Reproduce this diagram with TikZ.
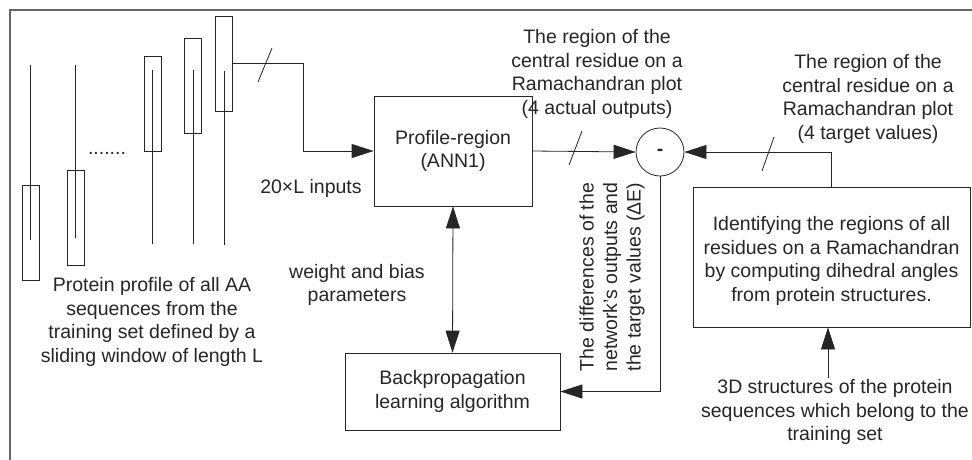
\documentclass[tikz,border=0pt]{standalone}
\usepackage{fontspec}
\setmainfont{Liberation Sans}
\usetikzlibrary{arrows.meta}
\begin{document}
\begin{tikzpicture}[x=1pt,y=-1pt,
  every node/.style={font=\fontsize{19.5}{23.5}\selectfont, text=black!85},
  ln/.style={draw=black!85, line width=0.8pt},
  tip/.tip={Triangle[length=22pt,width=14pt]},
  arr/.style={ln, -tip},
  darr/.style={ln, tip-tip},
  blk/.style={ln, rectangle, inner sep=0pt, align=center},
  winbox/.style={ln, rectangle, inner sep=0pt, minimum width=17pt, minimum height=95pt},
  lbl/.style={align=center, inner sep=0pt},
  cut/.style={ln}]
\useasboundingbox (0,0) rectangle (972,459);
\clip (0,0) rectangle (972,459);
\fill[white] (0,0) rectangle (972,459);
% outer frame
\draw[draw=black!60, line width=1.2pt] (10,480) -- (10,10) -- (990,10);

% profile windows sliding along the sequences
\draw[ln] (30,65) -- (30,240);
\node[winbox] (b1) at (30.5,232.5) {};
\draw[ln] (75,65) -- (75,238);
\node[winbox] (b2) at (75.5,218) {};
\node[lbl, anchor=base] (dots) at (107,154) {.......};
\draw[ln] (152,70) -- (152,244);
\node[winbox] (b3) at (152.5,104) {};
\draw[ln] (193,70) -- (193,244);
\node[winbox] (b4) at (193,86) {};
\draw[ln] (224,71) -- (224,245);
\node[winbox] (b5) at (224,63.5) {};

\node[lbl] (prof) at (152,322) {Protein profile of all AA\\sequences from the\\training set defined by a\\sliding window of length L};

% network and training blocks
\node[blk, minimum width=158pt, minimum height=110pt] (ann) at (453,151) {Profile-region\\(ANN1)};
\node[blk, minimum width=215pt, minimum height=77pt] (bp) at (452.5,391.5) {Backpropagation\\learning algorithm};
\node[blk, minimum width=277pt, minimum height=140pt] (ident) at (831.5,257) {};
\node[lbl] (identtxt) at (831.5,261) {Identifying the regions of all\\residues on a Ramachandran\\by computing dihedral angles\\from protein structures.};
\node[ln, circle, minimum size=48pt, inner sep=0pt] (sum) at (660,152) {\textbf{-}};

% inputs
\coordinate (c1) at (303,63.5);
\coordinate (c2) at (303,151);
\draw[arr] (b5.east) -- (c1) -- (c2) -- (ann.west);
\draw[cut] (272,48) -- (258,82);
\node[lbl] (inp) at (311,188) {20×L inputs};

% actual outputs to comparator
\draw[arr] (ann.east) -- (sum.west);
\draw[cut] (582,131) -- (569,165);
\node[lbl] (outl) at (597,74) {The region of the\\central residue on a\\Ramachandran plot\\(4 actual outputs)};

% target values to comparator
\draw[arr] (ident.north) |- (sum.east);
\draw[cut] (774,137) -- (762,171);
\node[lbl] (tgtl) at (868,99) {The region of the\\central residue on a\\Ramachandran plot\\(4 target values)};

% error fed back to the training algorithm
\draw[arr] (sum.south) |- (bp.east);
\node[lbl, rotate=90] (err) at (612,277) {The differences of the\\network's outputs and\\the target values (ΔE)};

% weight update
\draw[darr] (ann.south) -- (bp.north);
\node[lbl] (wb) at (357,285) {weight and bias\\parameters};

% structures source
\node[lbl] (src) at (835,412) {3D structures of the protein\\sequences which belong to the\\training set};
\coordinate (s0) at (828,378);
\draw[arr] (s0) -- (s0 |- ident.south);
\end{tikzpicture}
\end{document}
